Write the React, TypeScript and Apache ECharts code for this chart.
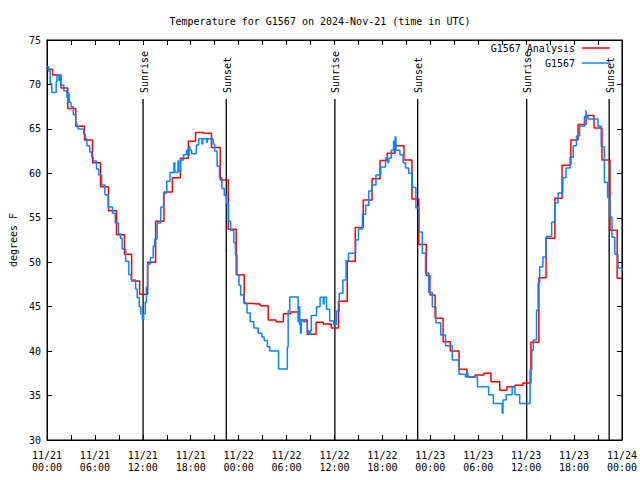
import React, { useEffect, useRef } from "react";
import * as echarts from "echarts";

// Hours since 2024-11-21 00:00 UTC
const redHours = [0, 0.7, 1.75, 2.6, 3.6, 4.7, 5.7, 6.7, 7.7, 8.7, 9.7, 10.6, 11.6, 12.6, 13.6, 14.65, 15.7, 16.7, 17.7, 18.6, 19.6, 20.6, 21.7, 22.7, 23.7, 24.7, 25.7, 26.7, 27.7, 28.7, 29.6, 30.5, 31.5, 32.6, 33.7, 34.6, 35.6, 36.5, 37.6, 38.6, 39.6, 40.7, 41.7, 42.6, 43.6, 44.7, 45.7, 46.55, 47.5, 47.95, 48.6, 49.6, 50.5, 51.6, 52.6, 53.6, 54.7, 55.6, 56.7, 57.6, 58.6, 59.6, 60.6, 61.6, 62.5, 63.6, 64.5, 65.6, 66.5, 67.5, 68.5, 69.5, 70.5, 71.4, 72];
const redTemps = [71.7, 71.06, 69.6, 67.3, 65.3, 63.75, 61.2, 58.5, 55.8, 53.1, 50.9, 47.9, 46.4, 50.0, 54.6, 57.9, 59.5, 61.7, 63.6, 64.6, 64.5, 62.9, 59.25, 53.7, 48.6, 45.35, 45.3, 45.1, 43.5, 43.3, 44.2, 44.4, 43.5, 41.9, 43.25, 43.05, 42.6, 45.6, 50.1, 53.9, 57.0, 59.4, 61.45, 62.25, 63.1, 61.5, 57.1, 52.0, 48.5, 46.3, 43.7, 41.06, 40.0, 37.95, 37.1, 37.3, 37.5, 36.56, 35.6, 36.0, 36.15, 36.4, 41.0, 48.26, 52.7, 57.2, 60.9, 63.75, 65.5, 66.5, 65.1, 61.5, 53.6, 48.2, 48.2];

const blueHours = [0.0, 0.2, 0.4, 0.6, 1.15, 1.25, 1.5, 1.55, 1.7, 2.1, 2.5, 2.6, 2.75, 2.8, 3.0, 3.3, 3.6, 3.75, 3.9, 4.6, 4.8, 5.0, 5.35, 5.6, 5.8, 6.2, 6.5, 6.85, 7.25, 7.65, 8.2, 8.55, 8.95, 9.2, 9.4, 9.85, 10.25, 10.55, 11.1, 11.3, 11.55, 11.75, 11.95, 12.1, 12.3, 12.45, 12.6, 12.95, 13.3, 13.5, 13.8, 14.25, 14.6, 15.0, 15.4, 15.9, 16.0, 16.4, 16.5, 16.75, 17.1, 17.5, 17.7, 17.8, 17.9, 18.1, 18.7, 19.0, 19.4, 19.5, 20.0, 20.1, 20.5, 20.8, 21.0, 21.3, 21.6, 21.9, 22.2, 22.5, 22.75, 23.0, 23.4, 23.6, 23.8, 24.05, 24.25, 24.65, 25.05, 25.45, 25.9, 26.45, 26.9, 27.2, 27.6, 27.9, 29.0, 30.1, 30.2, 30.4, 31.45, 31.55, 31.65, 31.75, 31.85, 32.1, 32.6, 32.8, 33.0, 33.1, 33.75, 34.2, 34.6, 34.7, 35.0, 35.4, 35.9, 36.25, 36.6, 37.05, 37.45, 37.75, 38.65, 39.0, 39.5, 39.9, 40.3, 40.7, 41.2, 41.8, 42.4, 42.7, 42.8, 43.1, 43.4, 43.5, 43.6, 43.7, 44.2, 44.6, 44.9, 45.3, 45.75, 46.2, 46.6, 47.0, 47.4, 47.8, 48.25, 48.7, 49.3, 49.9, 50.75, 51.6, 52.4, 52.6, 52.7, 53.9, 55.3, 55.9, 57.0, 57.1, 57.5, 58.25, 58.6, 59.2, 60.5, 60.7, 60.9, 61.3, 61.5, 61.7, 62.1, 62.5, 63.2, 63.6, 64.0, 64.6, 65.0, 65.5, 65.9, 66.3, 66.7, 67.3, 67.5, 67.55, 67.75, 69.0, 69.4, 69.8, 70.2, 70.5, 70.75, 71.1, 71.5, 72.0];
const blueTemps = [72.0, 71.5, 70.1, 69.1, 70.3, 71.0, 70.4, 71.0, 69.9, 69.3, 68.5, 68.0, 69.1, 68.0, 67.5, 66.6, 65.6, 65.25, 65.0, 64.4, 63.9, 63.1, 62.4, 61.8, 61.4, 60.5, 59.8, 58.7, 57.6, 56.2, 55.5, 54.4, 53.2, 52.7, 51.5, 50.1, 48.6, 48.0, 47.0, 46.0, 45.0, 44.2, 43.5, 44.2, 45.5, 47.2, 49.8, 50.5, 51.8, 52.6, 54.4, 56.2, 57.8, 59.1, 60.1, 61.2, 60.1, 61.4, 60.2, 61.5, 62.1, 62.6, 62.0, 63.0, 62.6, 62.2, 63.2, 63.9, 63.3, 63.9, 63.5, 63.9, 63.9, 63.3, 62.5, 60.8, 59.5, 58.3, 57.5, 56.6, 54.6, 53.6, 52.2, 50.8, 48.6, 47.4, 46.3, 45.4, 44.3, 43.3, 42.6, 42.0, 41.6, 41.2, 40.5, 40.0, 38.0, 40.5, 44.5, 46.1, 43.3, 45.0, 43.0, 42.0, 43.5, 43.3, 42.3, 41.9, 42.3, 44.0, 45.0, 46.05, 45.3, 46.05, 44.7, 43.4, 43.0, 44.5, 46.5, 48.0, 50.2, 51.0, 52.5, 53.75, 55.4, 56.4, 58.0, 58.7, 59.8, 60.7, 61.7, 61.2, 61.7, 62.6, 63.6, 62.4, 64.1, 62.6, 62.1, 61.2, 60.6, 60.0, 58.4, 56.1, 53.4, 51.0, 48.8, 46.6, 45.0, 43.2, 41.8, 40.6, 39.0, 37.4, 37.1, 37.6, 37.1, 36.0, 35.1, 34.1, 33.0, 34.5, 35.1, 36.0, 35.1, 34.1, 37.9, 40.1, 41.25, 44.6, 47.7, 49.5, 50.6, 52.9, 54.5, 56.7, 57.8, 59.5, 60.6, 61.8, 63.1, 64.2, 65.3, 66.4, 67.1, 66.4, 66.1, 65.3, 63.0, 59.0, 57.3, 55.1, 52.8, 50.9, 49.35, 49.0];

const sunHours = [12.03, 22.45, 36.05, 46.42, 60.07, 70.4];
const sunLabels = ["Sunrise", "Sunset", "Sunrise", "Sunset", "Sunrise", "Sunset"];

const seriesNames = ["G1567 Analysis", "G1567"];
const titleText = "Temperature for G1567 on 2024-Nov-21 (time in UTC)";
const yName = "degrees F";

const FONT = "DejaVu Sans Mono";

function fmtX(v: number): string {
  if (Math.round(v) % 6 !== 0) return "";
  const day = 21 + Math.floor(v / 24);
  const hr = Math.round(v) % 24;
  return "11/" + day + "\n" + (hr < 10 ? "0" + hr : "" + hr) + ":00";
}

export default function App() {
  const ref = useRef<HTMLDivElement>(null);
  useEffect(() => {
    if (!ref.current) return;
    const chart = echarts.init(ref.current, undefined, { renderer: "svg" });
    const redData = redHours.map((h, i) => [h, redTemps[i]]);
    const blueData = blueHours.map((h, i) => [h, blueTemps[i]]);
    const tickStyle = { show: true, inside: true, length: 5, lineStyle: { color: "#000", width: 1 } };
    const legendBase = {
      right: 30,
      padding: 0,
      align: "right",
      icon: "rect",
      itemWidth: 28,
      itemHeight: 1.5,
      itemGap: 8,
      textStyle: { fontFamily: FONT, fontSize: 10, color: "#000", padding: [0, 2, 0, 0] },
    };
    const option: any = {
      animation: false,
      backgroundColor: "#fff",
      textStyle: { fontFamily: FONT, color: "#000" },
      title: {
        text: titleText,
        left: "center",
        top: 11,
        textStyle: { fontFamily: FONT, fontSize: 10, fontWeight: "normal", color: "#000" },
      },
      legend: [
        { ...legendBase, data: [seriesNames[0]], top: 43 },
        { ...legendBase, data: [seriesNames[1]], top: 58 },
      ],
      grid: { left: 46, right: 18, top: 40, bottom: 40, show: true, borderColor: "#000", borderWidth: 1 },
      xAxis: [
        {
          type: "value",
          min: 0,
          max: 72,
          interval: 3,
          position: "bottom",
          axisLine: { show: true, onZero: false, lineStyle: { color: "#000" } },
          axisTick: tickStyle,
          splitLine: { show: false },
          axisLabel: {
            formatter: fmtX,
            fontFamily: FONT,
            fontSize: 10,
            color: "#000",
            lineHeight: 12,
            margin: 9,
            showMinLabel: true,
            showMaxLabel: true,
          },
        },
        {
          type: "value",
          min: 0,
          max: 72,
          interval: 3,
          position: "top",
          axisLine: { show: true, onZero: false, lineStyle: { color: "#000" } },
          axisTick: tickStyle,
          splitLine: { show: false },
          axisLabel: { show: false },
        },
      ],
      yAxis: [
        {
          type: "value",
          min: 30,
          max: 75,
          interval: 5,
          position: "left",
          name: yName,
          nameLocation: "middle",
          nameGap: 29,
          nameTextStyle: { fontFamily: FONT, fontSize: 10, color: "#000" },
          axisLine: { show: true, onZero: false, lineStyle: { color: "#000" } },
          axisTick: tickStyle,
          splitLine: { show: false },
          axisLabel: { fontFamily: FONT, fontSize: 10, color: "#000", margin: 6 },
        },
        {
          type: "value",
          min: 30,
          max: 75,
          interval: 5,
          position: "right",
          axisLine: { show: true, onZero: false, lineStyle: { color: "#000" } },
          axisTick: tickStyle,
          splitLine: { show: false },
          axisLabel: { show: false },
        },
      ],
      series: [
        {
          type: "custom",
          name: "sun",
          xAxisIndex: 0,
          yAxisIndex: 0,
          silent: true,
          z: 1,
          data: sunHours.map((h) => [h, 30]),
          renderItem: (params: any, api: any) => {
            const t = api.value(0);
            const b = api.coord([t, 30]);
            const tp = api.coord([t, 75]);
            return {
              type: "group",
              children: [
                {
                  type: "line",
                  shape: { x1: b[0], y1: b[1], x2: b[0], y2: tp[1] + 59 },
                  style: { stroke: "#000", lineWidth: 1.3 },
                },
                {
                  type: "text",
                  x: b[0] + 1,
                  y: tp[1] + 53,
                  rotation: Math.PI / 2,
                  style: {
                    text: sunLabels[params.dataIndex],
                    textAlign: "left",
                    textVerticalAlign: "middle",
                    fontFamily: FONT,
                    fontSize: 10,
                    fill: "#000",
                  },
                },
              ],
            };
          },
        },
        {
          type: "line",
          name: seriesNames[0],
          step: "end",
          data: redData,
          showSymbol: false,
          z: 2,
          lineStyle: { color: "#ff0000", width: 1.5 },
          itemStyle: { color: "#ff0000" },
        },
        {
          type: "line",
          name: seriesNames[1],
          step: "end",
          data: blueData,
          showSymbol: false,
          z: 3,
          lineStyle: { color: "#0a84ff", width: 1.5 },
          itemStyle: { color: "#0a84ff" },
        },
      ],
    };
    chart.setOption(option);
    return () => chart.dispose();
  }, []);
  return <div ref={ref} style={{ width: 640, height: 480, position: "absolute", left: 0, top: 0 }} />;
}
